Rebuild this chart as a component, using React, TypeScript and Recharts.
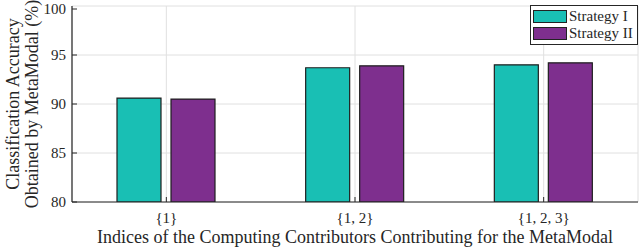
import React from 'react';
import { BarChart, Bar, XAxis, YAxis, CartesianGrid, Legend } from 'recharts';

const categories = ['{1}', '{1, 2}', '{1, 2, 3}'];
const strategyI = [90.6, 93.7, 94.0];
const strategyII = [90.5, 93.9, 94.2];
const yTicks = [80, 85, 90, 95, 100];
const seriesNames = ['Strategy I', 'Strategy II'];
const xLabel = 'Indices of the Computing Contributors Contributing for the MetaModal';
const yLabelLines = ['Classification Accuracy', 'Obtained by MetaModal (%)'];

const data = categories.map((c, i) => ({ name: c, s1: strategyI[i], s2: strategyII[i] }));

const AXIS = '#262626';
const GRID = '#e0e0e0';
const TEAL = '#19bfb4';
const PURPLE = '#7e2f8e';
const FONT = '"Liberation Serif", "Times New Roman", Times, serif';
const TICK_LEN = 5;
const X_MARGIN = 10;
const Y_MARGIN = 6;

const LeftTick = (props: any) => {
  const { x, y, payload } = props;
  return (
    <g>
      <line x1={x + Y_MARGIN} x2={x + Y_MARGIN + TICK_LEN} y1={y} y2={y} stroke={AXIS} />
      <text x={x} y={y} dy="0.36em" textAnchor="end" fontFamily={FONT} fontSize={15} fill={AXIS}>
        {payload.value}
      </text>
    </g>
  );
};

const RightTick = (props: any) => {
  const { x, y } = props;
  return <line x1={x} x2={x - TICK_LEN} y1={y} y2={y} stroke={AXIS} />;
};

const TopTick = (props: any) => {
  const { x, y } = props;
  return <line x1={x} x2={x} y1={y} y2={y + TICK_LEN} stroke={AXIS} />;
};

const BottomTick = (props: any) => {
  const { x, y, payload } = props;
  return (
    <g>
      <line x1={x} x2={x} y1={y - X_MARGIN} y2={y - X_MARGIN - TICK_LEN} stroke={AXIS} />
      <text x={x} y={y} dy="0.76em" textAnchor="middle" fontFamily={FONT} fontSize={15} fill={AXIS}>
        {payload.value}
      </text>
    </g>
  );
};

const XLabel = (props: any) => {
  const vb = props.viewBox;
  return (
    <text x={vb.x + vb.width / 2} y={vb.y + 41} textAnchor="middle" fontFamily={FONT} fontSize={18} fill={AXIS}>
      {xLabel}
    </text>
  );
};

const YLabel = (props: any) => {
  const vb = props.viewBox;
  const cy = vb.y + vb.height / 2;
  const xs = [19, 38];
  return (
    <g>
      {yLabelLines.map((t, i) => (
        <text
          key={i}
          x={xs[i]}
          y={cy}
          transform={`rotate(-90 ${xs[i]} ${cy})`}
          textAnchor="middle"
          fontFamily={FONT}
          fontSize={18}
          fill={AXIS}
        >
          {t}
        </text>
      ))}
    </g>
  );
};

const LegendBox = (props: any) => {
  const items = props.payload || [];
  return (
    <div
      style={{
        border: `1px solid ${AXIS}`,
        background: '#fff',
        padding: '2px 3px 2px 2px',
        fontFamily: FONT,
        fontSize: 15,
        lineHeight: '17px',
        boxSizing: 'border-box',
        color: AXIS,
        textAlign: 'left',
      }}
    >
      {items.map((it: any, i: number) => (
        <div key={i} style={{ display: 'flex', alignItems: 'center', height: 17, whiteSpace: 'nowrap' }}>
          <span
            style={{
              display: 'inline-block',
              width: 34,
              height: 13,
              background: it.color,
              border: '1px solid #222',
              marginRight: 2,
              boxSizing: 'border-box',
            }}
          />
          <span>{it.value}</span>
        </div>
      ))}
    </div>
  );
};

export default function App() {
  return (
    <div style={{ position: 'absolute', left: 0, top: 0, width: 640, height: 248, background: '#fff' }}>
      <BarChart
        width={640}
        height={248}
        data={data}
        margin={{ top: 6, right: 2, bottom: 0, left: 0 }}
        barSize={44}
        barGap={10}
      >
        <CartesianGrid stroke={GRID} strokeWidth={1} />
        <XAxis
          dataKey="name"
          height={46}
          tickSize={0}
          tickMargin={X_MARGIN}
          tick={<BottomTick />}
          axisLine={{ stroke: AXIS, strokeWidth: 1.2 }}
          tickLine={false}
          interval={0}
          label={<XLabel />}
        />
        <XAxis
          xAxisId="top"
          dataKey="name"
          orientation="top"
          height={0}
          tickSize={0}
          tickMargin={0}
          tick={<TopTick />}
          axisLine={{ stroke: AXIS, strokeWidth: 1.2 }}
          tickLine={false}
          interval={0}
        />
        <YAxis
          width={72}
          domain={[80, 100]}
          ticks={yTicks}
          tickSize={0}
          tickMargin={Y_MARGIN}
          tick={<LeftTick />}
          axisLine={{ stroke: AXIS, strokeWidth: 1.2 }}
          tickLine={false}
          allowDataOverflow
          label={<YLabel />}
        />
        <YAxis
          yAxisId="right"
          orientation="right"
          width={0}
          domain={[80, 100]}
          ticks={yTicks}
          tickSize={0}
          tickMargin={0}
          tick={<RightTick />}
          axisLine={{ stroke: AXIS, strokeWidth: 1.2 }}
          tickLine={false}
          allowDataOverflow
        />
        <Legend
          layout="horizontal"
          verticalAlign="middle"
          align="center"
          content={<LegendBox />}
          wrapperStyle={{ top: 5, left: 530, width: 108, height: 38 }}
        />
        <Bar dataKey="s1" name={seriesNames[0]} fill={TEAL} stroke="#1e1e1e" strokeWidth={1.2} isAnimationActive={false} />
        <Bar dataKey="s2" name={seriesNames[1]} fill={PURPLE} stroke="#1e1e1e" strokeWidth={1.2} isAnimationActive={false} />
      </BarChart>
    </div>
  );
}
